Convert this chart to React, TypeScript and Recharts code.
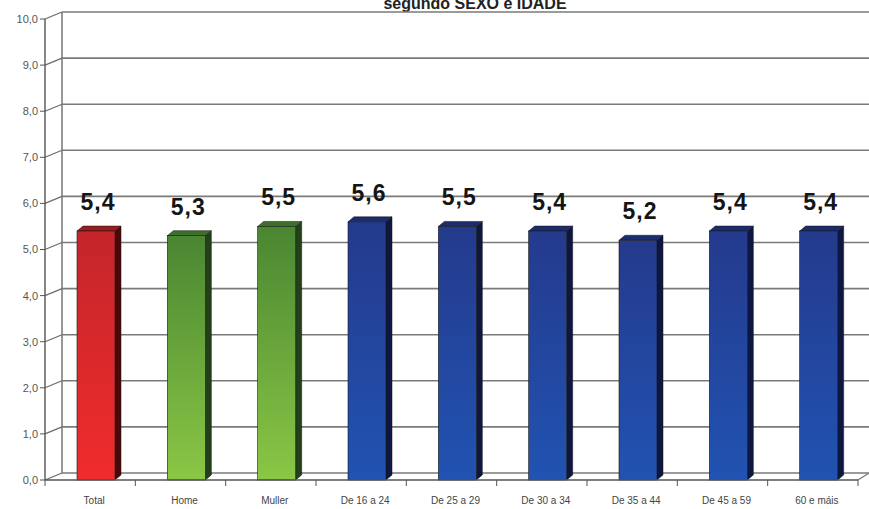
import React from "react";
import { BarChart, Bar, XAxis, YAxis, CartesianGrid, LabelList } from "recharts";

const categories = [
  "Total",
  "Home",
  "Muller",
  "De 16 a 24",
  "De 25 a 29",
  "De 30 a 34",
  "De 35 a 44",
  "De 45 a 59",
  "60 e máis",
];
const values = [5.4, 5.3, 5.5, 5.6, 5.5, 5.4, 5.2, 5.4, 5.4];
const groups = ["total", "sexo", "sexo", "idade", "idade", "idade", "idade", "idade", "idade"];
const yTicks = [0, 1, 2, 3, 4, 5, 6, 7, 8, 9, 10];
const title = "segundo SEXO e IDADE";

const W = 869;
const H = 509;
const MARGIN = { top: 19, right: 11, left: 0, bottom: 0 };
const Y_AXIS_W = 45;
const X_AXIS_H = 29;
const PLOT_L = MARGIN.left + Y_AXIS_W;
const PLOT_R = W - MARGIN.right;
const PLOT_B = H - MARGIN.bottom - X_AXIS_H;
const BAND = (PLOT_R - PLOT_L) / categories.length;
// depth of the back wall
const WALL_DX = 17;
const WALL_DY = 7;
// depth of each bar
const BAR_DX = 6;
const BAR_DY = 5;
const BAR_SHIFT = 6;

const PALETTE: Record<string, { top: string; bottom: string; side: string; cap: string }> = {
  total: { top: "#c4252a", bottom: "#f02c2c", side: "#4a0808", cap: "#9a1c1c" },
  sexo: { top: "#4a8632", bottom: "#8ac745", side: "#23401a", cap: "#3d7029" },
  idade: { top: "#243a8c", bottom: "#2153b2", side: "#0e1742", cap: "#1c2d6e" },
};

const data = categories.map((name, i) => ({ name, value: values[i], group: groups[i] }));

const fmt = (v: number) => v.toFixed(1).replace(".", ",");

const GridLine = (props: any) => {
  const { x1, y1, index } = props;
  const bx = x1 + WALL_DX;
  const by = y1 - WALL_DY;
  return (
    <g key={`gl-${index}-${y1}`}>
      <line x1={x1} y1={y1} x2={bx} y2={by} stroke="#6b6b6b" strokeWidth={1.2} />
      <line x1={bx} y1={by} x2={W} y2={by} stroke="#7a7a7a" strokeWidth={1.6} />
    </g>
  );
};

const Bar3D = (props: any) => {
  const { x, y, width, height, payload } = props;
  if (height == null || height <= 0) return null;
  const c = PALETTE[payload.group];
  const fx = x + BAR_SHIFT;
  const r = fx + width;
  const b = y + height;
  return (
    <g>
      <polygon
        points={`${r},${y} ${r + BAR_DX},${y - BAR_DY} ${r + BAR_DX},${b - BAR_DY} ${r},${b}`}
        fill={c.side}
        stroke="#111"
        strokeWidth={0.5}
      />
      <polygon
        points={`${fx},${y} ${fx + BAR_DX},${y - BAR_DY} ${r + BAR_DX},${y - BAR_DY} ${r},${y}`}
        fill={c.cap}
        stroke="#111"
        strokeWidth={0.5}
      />
      <rect
        x={fx}
        y={y}
        width={width}
        height={height}
        fill={`url(#grad-${payload.group})`}
        stroke="#1a1a1a"
        strokeWidth={0.6}
      />
    </g>
  );
};

const ValueLabel = (props: any) => {
  const { x, y, width, value } = props;
  return (
    <text
      x={x + BAR_SHIFT + width / 2 + 2}
      y={y - 21}
      textAnchor="middle"
      fontFamily="Liberation Sans, Arial, sans-serif"
      fontWeight="bold"
      fontSize={23}
      letterSpacing={1}
      fill="#151515"
    >
      {fmt(value)}
    </text>
  );
};

const XTick = (props: any) => {
  const { x, y, payload, index } = props;
  return (
    <g>
      {index === 0 && (
        <line x1={x - BAND / 2} y1={PLOT_B} x2={x - BAND / 2} y2={PLOT_B + 6} stroke="#555" />
      )}
      <line x1={x + BAND / 2} y1={PLOT_B} x2={x + BAND / 2} y2={PLOT_B + 6} stroke="#555" />
      <text
        x={x + 4}
        y={y + 16}
        textAnchor="middle"
        fontFamily="Liberation Sans, Arial, sans-serif"
        fontSize={10}
        fill="#444"
      >
        {payload.value}
      </text>
    </g>
  );
};

export default function App() {
  const top = MARGIN.top;
  return (
    <div
      style={{
        position: "absolute",
        left: 0,
        top: 0,
        width: W,
        height: H,
        background: "#fff",
        overflow: "hidden",
      }}
    >
      <svg width={W} height={H} style={{ position: "absolute", left: 0, top: 0 }}>
        <text
          x={475}
          y={9}
          textAnchor="middle"
          fontFamily="Liberation Sans, Arial, sans-serif"
          fontWeight="bold"
          fontSize={16}
          fill="#222"
        >
          {title}
        </text>
        {/* back wall edge and floor */}
        <line x1={PLOT_L + WALL_DX} y1={top - WALL_DY} x2={PLOT_L + WALL_DX} y2={PLOT_B - WALL_DY} stroke="#6b6b6b" strokeWidth={1.4} />
        <line x1={PLOT_R} y1={PLOT_B} x2={PLOT_R + WALL_DX - 6} y2={PLOT_B - WALL_DY} stroke="#777" strokeWidth={1.2} />
      </svg>
      <div style={{ position: "absolute", left: 0, top: 0 }}>
        <BarChart width={W} height={H} data={data} margin={MARGIN} barSize={38}>
          <defs>
            {Object.keys(PALETTE).map((k) => (
              <linearGradient key={k} id={`grad-${k}`} x1="0" y1="0" x2="0" y2="1">
                <stop offset="0%" stopColor={PALETTE[k].top} />
                <stop offset="100%" stopColor={PALETTE[k].bottom} />
              </linearGradient>
            ))}
          </defs>
          <CartesianGrid vertical={false} horizontal={GridLine} />
          <XAxis
            dataKey="name"
            height={X_AXIS_H}
            axisLine={{ stroke: "#555", strokeWidth: 1.4 }}
            tickLine={false}
            tick={XTick}
            interval={0}
          />
          <YAxis
            domain={[0, 10]}
            ticks={yTicks}
            width={Y_AXIS_W}
            axisLine={{ stroke: "#555", strokeWidth: 1.4 }}
            tickLine={{ stroke: "#555" }}
            tickSize={5}
            tickFormatter={fmt}
            tick={{ fontSize: 11, fill: "#555", fontFamily: "Liberation Sans, Arial, sans-serif" }}
          />
          <Bar dataKey="value" shape={Bar3D} isAnimationActive={false}>
            <LabelList dataKey="value" content={ValueLabel} />
          </Bar>
        </BarChart>
      </div>
    </div>
  );
}
